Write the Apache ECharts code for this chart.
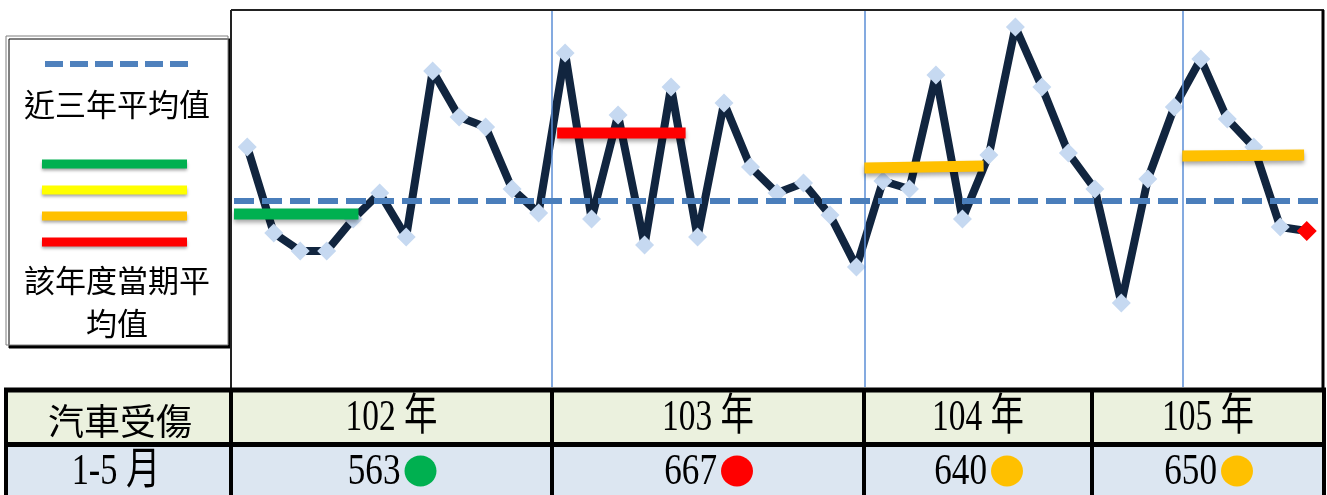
<!DOCTYPE html>
<html>
<head>
<meta charset="utf-8">
<title>汽車受傷</title>
<script src="https://cdn.jsdelivr.net/npm/echarts@6/dist/echarts.min.js"></script>
<style>
    html, body { margin: 0; padding: 0; background: #fff; }
    #main { width: 1327px; height: 495px; }
</style>
</head>
<body>
<div id="main"></div>
<script>
// monthly values 102/1 .. 105/5 (no y axis in the picture, scale)
var months = ['102/1', '102/2', '102/3', '102/4', '102/5', '102/6', '102/7', '102/8', '102/9', '102/10', '102/11', '102/12',
              '103/1', '103/2', '103/3', '103/4', '103/5', '103/6', '103/7', '103/8', '103/9', '103/10', '103/11', '103/12',
              '104/1', '104/2', '104/3', '104/4', '104/5', '104/6', '104/7', '104/8', '104/9', '104/10', '104/11', '104/12',
              '105/1', '105/2', '105/3', '105/4', '105/5'];
var counts = [160, 117, 108, 108, 124, 137, 115, 198, 175, 170, 139, 127,
              207, 124, 176, 111, 190, 115, 182, 150, 137, 142, 126, 100,
              143, 139, 196, 124, 156, 220, 190, 157, 139, 82, 144, 180,
              204, 174, 160, 120, 118];
var threeYearAvg = 133;

// per year: 1-5 month average bar (in category units on the hidden x axis)
var years = ['102 年', '103 年', '104 年', '105 年'];
var periodAvg = [[126.5, 126.5], [167, 167], [149.5, 150.5], [155.5, 156]];
var periodFrom = [-0.5, 11.7, 23.3, 35.3];
var periodTo = [4.2, 16.55, 27.8, 39.9];
var yearBreaks = [11.5, 23.3, 35.3];
var periodTotal = [563, 667, 640, 650];
var periodLight = ['green', 'red', 'orange', 'orange'];

var lightColor = {
    green: '#00B050',
    yellow: '#FFFF00',
    orange: '#FFC000',
    red: '#FF0000'
};

var cjkFont = '"Noto Sans CJK TC", "Noto Sans CJK SC", sans-serif';
var numFont = '"Liberation Serif", "Noto Sans CJK TC", serif';

function txt(s, x, y, font, sx) {
    return {
        type: 'text',
        x: x,
        y: y,
        scaleX: sx || 1,
        z: 20,
        style: {
            text: s,
            font: font,
            fill: '#000',
            align: 'center',
            verticalAlign: 'middle',
            textAlign: 'center',
            textVerticalAlign: 'middle'
        }
    };
}

function hline(x1, x2, y, w, color) {
    return {
        type: 'line',
        z: 15,
        shape: { x1: x1, y1: y, x2: x2, y2: y },
        style: { stroke: color, lineWidth: w }
    };
}

function vline(x, y1, y2, w, color) {
    return {
        type: 'line',
        z: 15,
        shape: { x1: x, y1: y1, x2: x, y2: y2 },
        style: { stroke: color, lineWidth: w }
    };
}

function legendGraphic() {
    var els = [];
    els.push({
        type: 'rect',
        z: 10,
        shape: { x: 6, y: 36, width: 222, height: 309 },
        style: {
            fill: '#fff',
            stroke: '#7f7f7f',
            lineWidth: 1,
            shadowColor: '#000',
            shadowOffsetX: 3,
            shadowOffsetY: 3,
            shadowBlur: 0
        }
    });
    els.push({
        type: 'line',
        z: 12,
        shape: { x1: 45, y1: 64, x2: 188, y2: 64 },
        style: { stroke: '#4F81BD', lineWidth: 6, lineDash: [18, 7] }
    });
    els.push(txt('近三年平均值', 117, 104, '31px ' + cjkFont));
    var keys = ['green', 'yellow', 'orange', 'red'];
    var ys = [164, 190, 216, 242];
    for (var i = 0; i < keys.length; i++) {
        els.push({
            type: 'line',
            z: 12,
            shape: { x1: 42, y1: ys[i], x2: 187, y2: ys[i] },
            style: {
                stroke: lightColor[keys[i]],
                lineWidth: 9,
                shadowColor: 'rgba(0,0,0,0.35)',
                shadowBlur: 3,
                shadowOffsetY: 2
            }
        });
    }
    els.push(txt('該年度當期平', 117, 280, '31px ' + cjkFont));
    els.push(txt('均值', 117, 323, '31px ' + cjkFont));
    return els;
}

function tableGraphic() {
    var cols = [6, 231, 552, 864, 1092, 1324];
    var els = [];
    els.push({ type: 'rect', z: 11, shape: { x: 6, y: 390, width: 1318, height: 54 }, style: { fill: '#EBF1DE' } });
    els.push({ type: 'rect', z: 11, shape: { x: 6, y: 444, width: 1318, height: 53 }, style: { fill: '#DCE6F1' } });

    // plot frame
    els.push(hline(231, 1324, 10, 2, '#222'));
    els.push(vline(231, 10, 390, 2, '#222'));
    els.push(vline(1323, 10, 390, 3, '#000'));

    // table borders
    els.push(hline(4, 1326, 390, 5, '#000'));
    els.push(hline(4, 1326, 444.5, 5, '#000'));
    for (var c = 0; c < cols.length; c++) {
        els.push(vline(cols[c], 388, 497, 4, '#000'));
    }

    els.push(txt('汽車受傷', 120, 421, '36px ' + cjkFont));
    els.push(txt('1-5 月', 116, 472, '44px ' + numFont, 0.78));
    for (var k = 0; k < years.length; k++) {
        var cx = (cols[k + 1] + cols[k + 2]) / 2;
        els.push(txt(years[k], cx, 418, '44px ' + numFont, 0.76));
        var t = txt(String(periodTotal[k]), cx + 9, 472, '44px ' + numFont, 0.8);
        t.style.align = 'right';
        t.style.textAlign = 'right';
        els.push(t);
        els.push({
            type: 'ellipse',
            z: 20,
            shape: { cx: cx + 29, cy: 471, rx: 16, ry: 15.5 },
            style: { fill: lightColor[periodLight[k]] }
        });
    }
    return els;
}

function init_chart() {
    var dom = document.getElementById('main');
    var myChart = echarts.init(dom, null, { renderer: 'canvas' });
    var option = null;

    var lineData = counts.map(function(v, i) {
        if (i === counts.length - 1) {
            return { value: v, symbolSize: 20, itemStyle: { color: '#FF0000' } };
        }
        return v;
    });

    var series = [{
        name: 'yearBreak',
        type: 'line',
        xAxisIndex: 1,
        data: [],
        z: 1,
        markLine: {
            silent: true,
            symbol: ['none', 'none'],
            label: { show: false },
            lineStyle: { color: '#5B8ED6', width: 1.5, type: 'solid' },
            data: yearBreaks.map(function(v) { return { xAxis: v }; })
        }
    }, {
        name: '汽車受傷',
        type: 'line',
        data: lineData,
        z: 3,
        showSymbol: true,
        showAllSymbol: true,
        symbol: 'diamond',
        symbolSize: 19,
        itemStyle: { color: '#C6D9F1' },
        lineStyle: { color: '#11253F', width: 8 }
    }];

    for (var k = 0; k < years.length; k++) {
        series.push({
            name: years[k],
            type: 'line',
            xAxisIndex: 1,
            z: 5,
            symbol: 'none',
            data: [[periodFrom[k], periodAvg[k][0]], [periodTo[k], periodAvg[k][1]]],
            lineStyle: {
                color: lightColor[periodLight[k]],
                width: 11,
                cap: 'butt',
                shadowColor: 'rgba(0,0,0,0.35)',
                shadowBlur: 4,
                shadowOffsetY: 3
            }
        });
    }

    series.push({
        name: '近三年平均值',
        type: 'line',
        data: [],
        z: 6,
        markLine: {
            silent: true,
            symbol: ['none', 'none'],
            label: { show: false },
            lineStyle: { color: '#4A7EBB', width: 6, type: [20, 8] },
            data: [{ yAxis: threeYearAvg }]
        }
    });

    option = {
        animation: false,
        backgroundColor: '#fff',
        grid: {
            left: 234,
            right: 7,
            top: 10,
            bottom: 108
        },
        xAxis: [{
            type: 'category',
            data: months,
            boundaryGap: true,
            show: false
        }, {
            type: 'value',
            min: -0.5,
            max: 40.5,
            show: false
        }],
        yAxis: {
            type: 'value',
            min: 40,
            max: 228.5,
            show: false,
            splitLine: { show: false }
        },
        graphic: { elements: legendGraphic().concat(tableGraphic()) },
        series: series
    };

    if (option && typeof option === 'object') {
        myChart.setOption(option, true);
    }
}

init_chart();
</script>
</body>
</html>
